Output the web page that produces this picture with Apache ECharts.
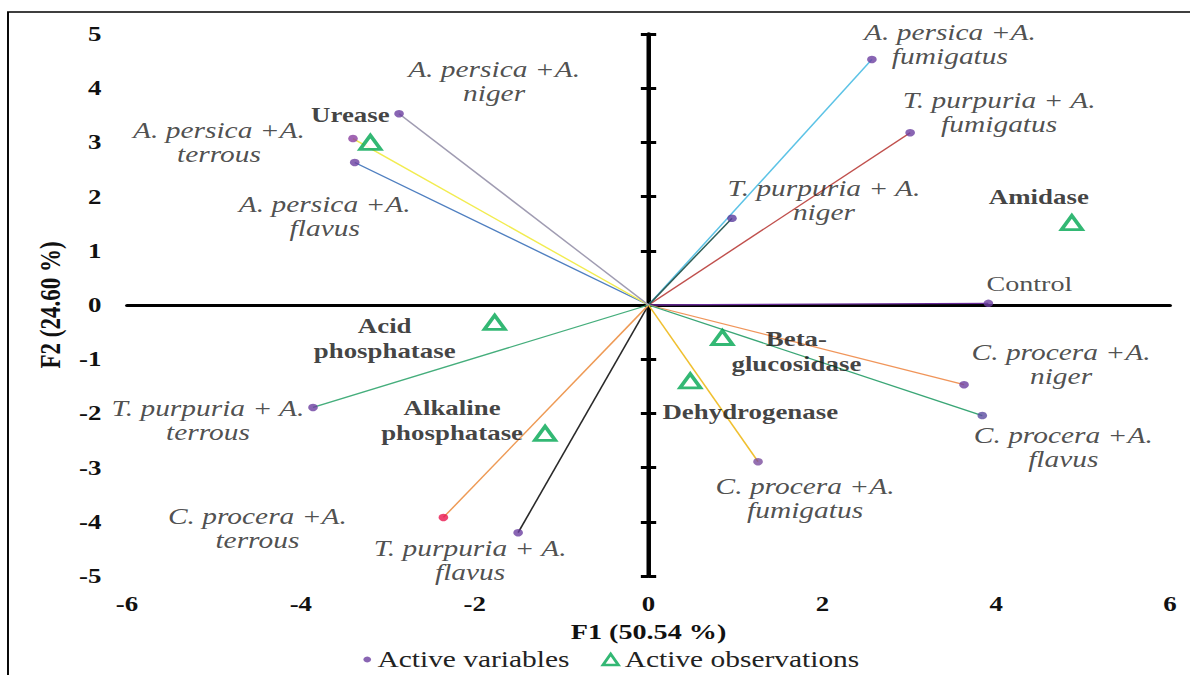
<!DOCTYPE html>
<html>
<head>
<meta charset="utf-8">
<script src="https://cdn.jsdelivr.net/npm/echarts/dist/echarts.min.js"></script>
<style>
html,body{margin:0;padding:0;background:#fff;overflow:hidden;width:1190px;height:675px;}
#wrap{width:1190px;height:675px;overflow:hidden;position:relative;background:#fff;}
#chart{width:930px;height:675px;position:absolute;left:0;top:0;transform:scaleX(1.279570);transform-origin:0 0;}
</style>
</head>
<body>
<div id="wrap"><div id="chart"></div></div>
<script>
// ---- data ----
const xMin = -6, xMax = 6, xStep = 2;
const yMin = -5, yMax = 5, yStep = 1;

const varNames = [
  'A. persica +A.\nfumigatus',
  'T. purpuria + A.\nfumigatus',
  'T. purpuria + A.\nniger',
  'Control',
  'C. procera +A.\nniger',
  'C. procera +A.\nflavus',
  'C. procera +A.\nfumigatus',
  'T. purpuria + A.\nflavus',
  'C. procera +A.\nterrous',
  'T. purpuria + A.\nterrous',
  'A. persica +A.\nflavus',
  'A. persica +A.\nterrous',
  'A. persica +A.\nniger'
];
const varF1 = [2.57, 3.01, 0.96, 3.91, 3.63, 3.84, 1.26, -1.50, -2.36, -3.86, -3.38, -3.40, -2.87];
const varF2 = [4.53, 3.18, 1.60, 0.03, -1.47, -2.04, -2.89, -4.20, -3.92, -1.89, 2.63, 3.07, 3.53];

const obsNames = ['Urease', 'Amidase', 'Acid\nphosphatase', 'Beta-\nglucosidase', 'Dehydrogenase', 'Alkaline\nphosphatase'];
const obsF1 = [-3.20, 4.87, -1.77, 0.85, 0.48, -1.19];
const obsF2 = [3.00, 1.52, -0.32, -0.60, -1.40, -2.37];

// ---- styles / layout (kept separate from the data) ----
const S = 1190 / 930;               // horizontal stretch of the whole picture
const FONT = 'Liberation Serif';
const varLineColors = ['#5CC3E6', '#C0504D', '#2F5E57', '#6A2C9A', '#F0955A', '#3AA676',
                       '#F0C030', '#2A2A2A', '#EE9A55', '#45AE7C', '#4F7FC0', '#F2EC50', '#A09CB2'];
const varDotColors = ['#6B3FA0','#6B3FA0','#5A3C9E','#6B3FA0','#6B3FA0','#5B4BA0','#7A4C9E',
                      '#6B3FA0','#E8174F','#6B3FA0','#6B3FA0','#8A3FA0','#6B3FA0'];
const varLabelOffsets = [[78,-15],[89,-20],[92,-18],[41,-20],[97,-21],[81,32],[47,37],
                         [-48,28],[-186,11],[-105,13],[-30,54],[-134,4],[95,-33]];
const obsLabelOffsets = [[-20,-27],[-33,-26],[-110,16],[74,14],[60,31],[-93,-13]];

const chart = echarts.init(document.getElementById('chart'), null, {renderer: 'svg'});

const tickFont = {fontFamily: FONT, fontWeight: 'bold', fontSize: 21, color: '#111'};
const nameFont = {fontFamily: FONT, fontWeight: 'bold', fontSize: 22, color: '#111'};
const legendFont = {fontFamily: FONT, fontStyle: 'normal', fontWeight: 'normal', fontSize: 23, color: '#222'};

const option = {
  backgroundColor: '#fff',
  animation: false,
  textStyle: {fontFamily: FONT},
  grid: {left: 99.25, right: 15.6, top: 34, bottom: 99, outerBoundsMode: 'none'},
  graphic: [{
    type: 'rect', silent: true, z: 100,
    shape: {x: 6.25, y: 12, width: 1000, height: 700},
    style: {fill: 'none', stroke: '#000', lineWidth: 1.5}
  }],
  legend: [
    {data: ['Active variables'], left: 279, top: 643, itemWidth: 6, itemHeight: 6,
     selectedMode: false, textStyle: legendFont},
    {data: ['Active observations'], left: 465, top: 643, itemWidth: 12, itemHeight: 11,
     selectedMode: false, itemStyle: {borderWidth: 2.5}, textStyle: legendFont}
  ],
  xAxis: [
    {type: 'value', min: xMin, max: xMax, interval: xStep, position: 'bottom',
     axisLine: {show: false, onZero: false}, axisTick: {show: false}, splitLine: {show: false},
     axisLabel: Object.assign({margin: 18}, tickFont),
     name: 'F1 (50.54 %)', nameLocation: 'middle', nameGap: 38, nameTextStyle: nameFont},
    {type: 'value', min: xMin, max: xMax, interval: xStep, position: 'bottom',
     axisLine: {show: true, onZero: true, onZeroAxisIndex: 0, lineStyle: {color: '#000', width: 3}},
     axisTick: {show: false}, axisLabel: {show: false}, splitLine: {show: false}}
  ],
  yAxis: [
    {type: 'value', min: yMin, max: yMax, interval: yStep, position: 'left',
     axisLine: {show: false, onZero: false}, axisTick: {show: false}, splitLine: {show: false},
     axisLabel: Object.assign({margin: 20}, tickFont),
     name: 'F2 (24.60 %)', nameLocation: 'middle', nameGap: 44,
     nameTextStyle: Object.assign({}, nameFont, {fontSize: 23})},
    {type: 'value', min: yMin, max: yMax, interval: yStep, position: 'left',
     axisLine: {show: true, onZero: true, onZeroAxisIndex: 0, lineStyle: {color: '#000', width: 3.5}},
     axisTick: {show: true, inside: false, length: 6, lineStyle: {color: '#000', width: 3}},
     axisLabel: {show: false}, splitLine: {show: false}},
    {type: 'value', min: yMin, max: yMax, interval: yStep, position: 'left',
     axisLine: {show: false, onZero: true, onZeroAxisIndex: 0},
     axisTick: {show: true, inside: true, length: 6, lineStyle: {color: '#000', width: 3}},
     axisLabel: {show: false}, splitLine: {show: false}}
  ],
  series: [
    {
      type: 'lines', name: 'vectors', coordinateSystem: 'cartesian2d', xAxisIndex: 0, yAxisIndex: 0,
      silent: true, z: 3,
      lineStyle: {width: 1.3, opacity: 1},
      data: varF1.map((x, i) => ({coords: [[0, 0], [x, varF2[i]]], lineStyle: {color: varLineColors[i]}}))
    },
    {
      type: 'scatter', name: 'Active variables', xAxisIndex: 0, yAxisIndex: 0, z: 4,
      symbol: 'circle', symbolSize: 7.5, itemStyle: {color: '#6B3FA0'},
      emphasis: {disabled: true},
      label: {show: true, position: 'inside', formatter: '{b}', fontFamily: FONT, fontStyle: 'italic',
              fontWeight: 'normal', fontSize: 23, lineHeight: 24, color: '#222', align: 'center',
              verticalAlign: 'middle', textBorderWidth: 0},
      data: varNames.map((n, i) => {
        const item = {name: n, value: [varF1[i], varF2[i]], itemStyle: {color: varDotColors[i]},
                      label: {offset: [varLabelOffsets[i][0] / S, varLabelOffsets[i][1]]}};
        if (n === 'Control') { item.label.fontStyle = 'normal'; item.label.fontSize = 22; }
        return item;
      })
    },
    {
      type: 'scatter', name: 'Active observations', xAxisIndex: 0, yAxisIndex: 0, z: 5,
      symbol: 'triangle', symbolSize: [16, 14],
      itemStyle: {color: '#fff', borderColor: '#00A651', borderWidth: 3},
      emphasis: {disabled: true},
      label: {show: true, position: 'inside', formatter: '{b}', fontFamily: FONT, fontWeight: 'bold',
              fontSize: 21, lineHeight: 25, color: '#111', align: 'center', verticalAlign: 'middle',
              textBorderWidth: 0},
      data: obsNames.map((n, i) => ({name: n, value: [obsF1[i], obsF2[i]],
                                      label: {offset: [obsLabelOffsets[i][0] / S, obsLabelOffsets[i][1]]}}))
    }
  ]
};
chart.setOption(option);
</script>
</body>
</html>
